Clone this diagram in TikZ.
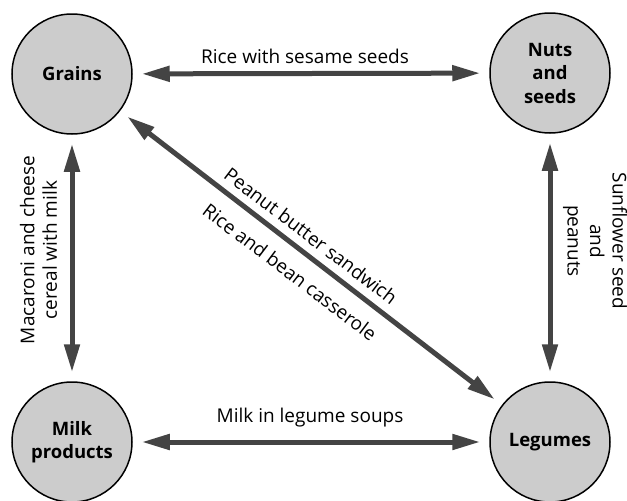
\documentclass[tikz,border=0pt]{standalone}
\usepackage{fontspec}
\setmainfont{Open Sans}
\usetikzlibrary{arrows.meta}
\definecolor{arrowgrey}{HTML}{444444}
\definecolor{circlegrey}{HTML}{CCCCCC}
\begin{document}
\begin{tikzpicture}[x=1pt,y=-1pt,
 food/.style={circle, draw=black, line width=1.5pt, fill=circlegrey, minimum size=120pt, inner sep=0pt, align=center, font=\bfseries\fontsize{18.5}{23.5}\selectfont},
 link/.style={draw=arrowgrey, line width=5pt, {Triangle[length=28pt,width=15pt]}-{Triangle[length=28pt,width=15pt]}, shorten <=9pt, shorten >=9pt},
 lab/.style={font=\fontsize{19}{22.5}\selectfont, align=center, inner sep=0pt}]
\useasboundingbox (0,0) rectangle (627,501);
\node[food] (grains) at (72,74) {Grains};
\node[food] (nuts) at (550,73) {Nuts\\and\\seeds};
\node[food] (milk) at (72,442) {Milk\\products};
\node[food] (legumes) at (550,442) {Legumes};
\draw[link] (grains) -- (nuts);
\draw[link] (milk) -- (legumes);
\draw[link] (grains) -- (milk);
\draw[link] (nuts) -- (legumes);
\draw[link] (grains) -- (legumes);
\node[lab] (l1) at (305,56) {Rice with sesame seeds};
\node[lab] (l2) at (310,418) {Milk in legume soups};
\node[lab, rotate=90] (l3) at (38.5,250) {Macaroni and cheese\\cereal with milk};
\node[lab, rotate=-90] (l4) at (595,241) {Sunflower seed\\and\\peanuts};
\node[lab, rotate=-37.2] (l5) at (311,236) {Peanut butter sandwich};
\node[lab, rotate=-37.2] (l6) at (290,272) {Rice and bean casserole};
\end{tikzpicture}
\end{document}
